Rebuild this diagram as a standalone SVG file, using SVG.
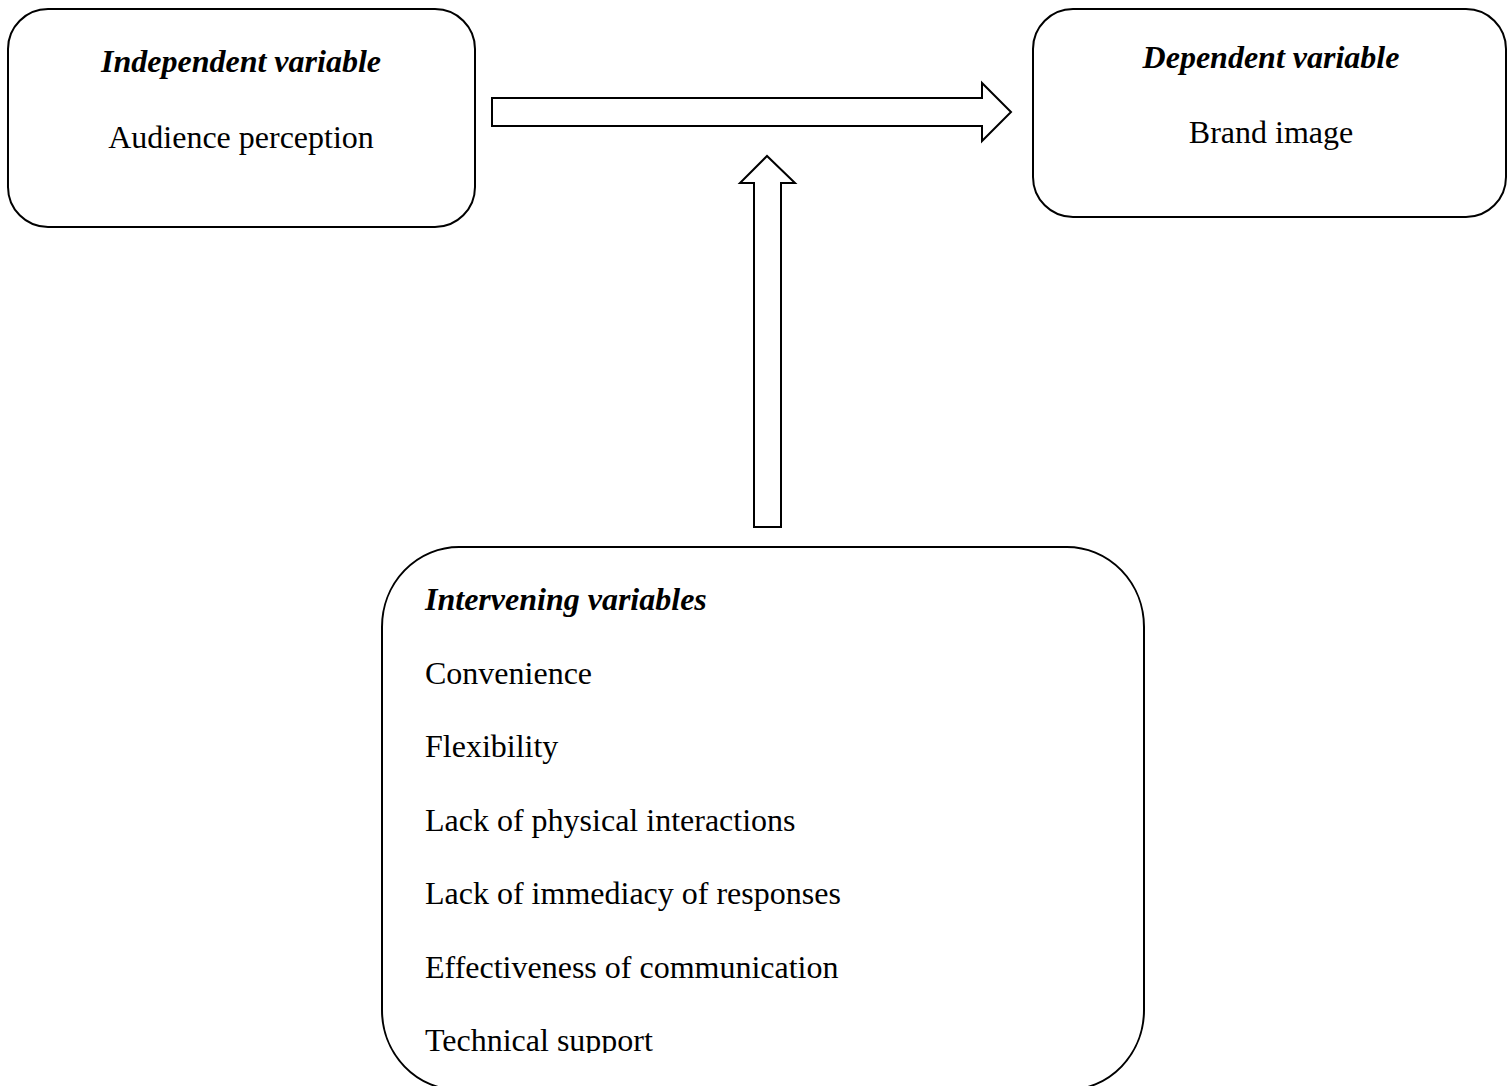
<svg xmlns="http://www.w3.org/2000/svg" width="1507" height="1086" viewBox="0 0 1507 1086">
<style>
.box{fill:#fff;stroke:#000;stroke-width:2}
.arr{fill:#fff;stroke:#000;stroke-width:2;stroke-linejoin:miter}
text{font-family:"Liberation Serif","Times New Roman",serif;font-size:32px;fill:#000}
.h{font-weight:bold;font-style:italic}
.c{text-anchor:middle}
</style>
<defs>
<clipPath id="clipBottom"><rect x="0" y="0" width="1507" height="1053"/></clipPath>
</defs>
<rect width="1507" height="1086" fill="#fff"/>
<g id="independent">
<rect class="box" x="8" y="9" width="467" height="218" rx="40" ry="40"/>
<text class="h c" x="241" y="72">Independent variable</text>
<text class="c" x="241" y="148">Audience perception</text>
</g>
<g id="dependent">
<rect class="box" x="1033" y="9" width="473" height="208" rx="40" ry="40"/>
<text class="h c" x="1271" y="68">Dependent variable</text>
<text class="c" x="1271" y="143">Brand image</text>
</g>
<g id="intervening">
<rect class="box" x="382" y="547" width="762" height="543" rx="77" ry="80"/>
<text class="h" x="425" y="610">Intervening variables</text>
<text x="425" y="683.5">Convenience</text>
<text x="425" y="757">Flexibility</text>
<text x="425" y="830.5">Lack of physical interactions</text>
<text x="425" y="904">Lack of immediacy of responses</text>
<text x="425" y="977.5">Effectiveness of communication</text>
<text x="425" y="1051" clip-path="url(#clipBottom)">Technical support</text>
</g>
<g id="connectors">
<polygon class="arr" points="492,98 982,98 982,83 1011,112 982,141 982,126 492,126"/>
<polygon class="arr" points="754,527 754,183 740,183 767,156 795,183 781,183 781,527"/>
</g>
</svg>
